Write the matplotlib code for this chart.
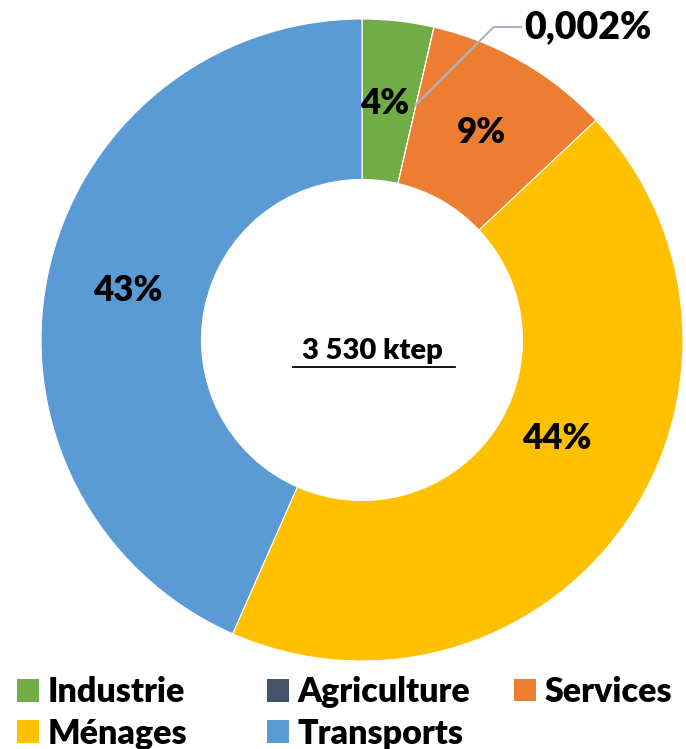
import numpy as np
import matplotlib.pyplot as plt
from matplotlib.patches import Patch

plt.rcParams['font.family'] = ['Lato', 'DejaVu Sans']

# data
sectors = ["Industrie", "Agriculture", "Services", "Ménages", "Transports"]
shares = [3.6, 0.002, 9.4, 43.6, 43.4]
labels = ["4%", "0,002%", "9%", "44%", "43%"]
colors = ["#70AD47", "#44546A", "#ED7D31", "#FFC000", "#5B9BD5"]
total_txt = "3 530 ktep"

W, H = 686, 749
fig = plt.figure(figsize=(W / 100, H / 100), dpi=100)
# pie centre ~ (362, 340) px, radius ~321 px
cx, cy, r = 362, 340, 321
ax = fig.add_axes([(cx - r) / W, (H - cy - r) / H, 2 * r / W, 2 * r / H])

wedges, _ = ax.pie(shares, colors=colors, startangle=90, counterclock=False,
                   radius=1, wedgeprops=dict(width=0.5, edgecolor='white', linewidth=0.8))
ax.set_xlim(-1, 1)
ax.set_ylim(-1, 1)
ax.set_aspect('equal')
ax.axis('off')

# label placement tweaks (angle shift in deg, radius) like excel moved them
lab_shift = {"Industrie": (1.0, 0.74), "Services": (0.0, 0.745),
             "Ménages": (8.5, 0.68), "Transports": (0.0, 0.745)}

tot = sum(shares)
ang = 90.0
for i, (s, lab) in enumerate(zip(shares, labels)):
    mid = ang - s / tot * 360 / 2
    ang -= s / tot * 360
    if sectors[i] == "Agriculture":
        continue
    da, rr = lab_shift[sectors[i]]
    rad = np.deg2rad(mid + da)
    ax.text(rr * np.cos(rad), rr * np.sin(rad), lab, ha='center', va='center',
            fontsize=25, fontweight='heavy', color='black')

# small agriculture slice: leader line + label
ax.annotate(labels[1], xy=(0.165, 0.73), xytext=(0.505, 0.975), textcoords='data',
            fontsize=27, fontweight='heavy', ha='left', va='center',
            arrowprops=dict(arrowstyle='-', color='#A5B5C8', lw=1.5,
                            connectionstyle='angle,angleA=0,angleB=45,rad=0',
                            shrinkA=0, shrinkB=0),
            annotation_clip=False)

ax.text(0.033, -0.035, total_txt, ha='center', va='center', fontsize=21,
        fontweight='heavy')
ax.plot([-0.215, 0.29], [-0.085, -0.085], color='black', lw=1.3)

# legend: one small legend per column, placed like the reference
leg_cols = [[0, 3], [1, 4], [2]]
leg_x = [17, 267, 514]
for col, x0 in zip(leg_cols, leg_x):
    hs = [Patch(facecolor=colors[i], edgecolor='none') for i in col]
    ycen = 713 if len(col) == 2 else 692
    leg = fig.legend(hs, [sectors[i] for i in col], loc='center left',
                     bbox_to_anchor=(x0 / W, 1 - ycen / H), frameon=False,
                     prop=dict(size=24.5, weight='heavy'), handlelength=0.65,
                     handleheight=0.65, handletextpad=0.25, labelspacing=0.28,
                     borderpad=0.0, borderaxespad=0.0)

fig.savefig("out.png", dpi=100, facecolor='white')
